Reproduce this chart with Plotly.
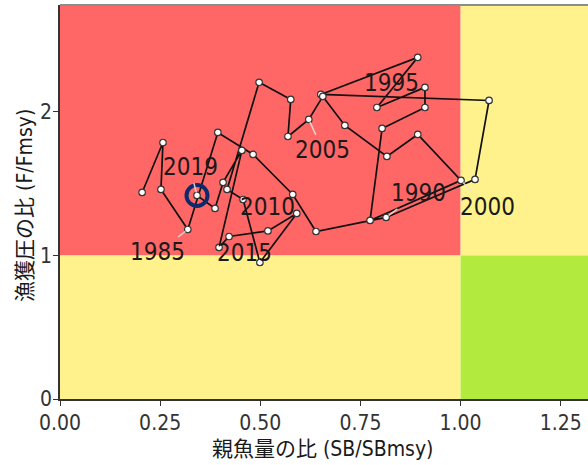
import plotly.graph_objects as go

# Stock trajectory: spawning biomass ratio vs fishing pressure ratio, by year
years = list(range(1982, 2020))
sb_ratio = [
    0.205, 0.257, 0.252, 0.319, 0.394, 0.482, 0.581, 0.639, 0.814, 1.036,
    1.071, 0.651, 0.893, 0.791, 0.911, 0.911, 0.804, 0.774, 1.001, 0.893,
    0.816, 0.711, 0.656, 0.621, 0.569, 0.576, 0.497, 0.417, 0.457, 0.499,
    0.591, 0.519, 0.422, 0.397, 0.454, 0.407, 0.387, 0.342,
]
f_ratio = [
    1.439, 1.787, 1.460, 1.181, 1.857, 1.704, 1.425, 1.167, 1.265, 1.530,
    2.080, 2.122, 2.380, 2.031, 2.171, 2.031, 1.885, 1.244, 1.523, 1.843,
    1.690, 1.906, 2.108, 1.948, 1.829, 2.087, 2.206, 1.460, 1.390, 0.951,
    1.293, 1.171, 1.132, 1.056, 1.732, 1.509, 1.328, 1.418,
]

label_years = [1985, 1990, 1995, 2000, 2005, 2010, 2015, 2019]
x_ticks = [0.0, 0.25, 0.5, 0.75, 1.0, 1.25]
y_ticks = [0, 1, 2]

x_max, y_max = 1.318, 2.745

RED = "#FF6666"
YELLOW = "#FFF28C"
GREEN = "#B3EA3E"

TEXT_FONT = "Liberation Sans Narrow, Arial Narrow, DejaVu Sans Condensed, Liberation Sans, Noto Sans CJK JP"

fig = go.Figure()

# Kobe quadrants
quadrants = [
    (0, 1, 1, y_max, RED),
    (1, x_max, 1, y_max, YELLOW),
    (0, 1, 0, 1, YELLOW),
    (1, x_max, 0, 1, GREEN),
]
for x0, x1, y0, y1, col in quadrants:
    fig.add_shape(type="rect", xref="x", yref="y", x0=x0, x1=x1, y0=y0, y1=y1,
                  fillcolor=col, line_width=0, layer="below")

fig.add_trace(go.Scatter(
    x=sb_ratio, y=f_ratio, mode="lines+markers",
    line=dict(color="#111111", width=1.7),
    marker=dict(size=6.5, color="white", line=dict(color="#333333", width=1.2)),
    hoverinfo="skip", showlegend=False,
))

# Ring around the latest year
fig.add_trace(go.Scatter(
    x=[sb_ratio[-1]], y=[f_ratio[-1]], mode="markers",
    marker=dict(symbol="circle-open", size=21, color="#0E2A6C", line=dict(width=4)),
    hoverinfo="skip", showlegend=False,
))

# Year label placement (pixel offsets from each point)
label_style = {
    1985: dict(leader=True, dx=-30, dy=23),
    1990: dict(leader=True, dx=32, dy=-24),
    1995: dict(leader=False, dx=15, dy=-24),
    2000: dict(leader=True, dx=26, dy=27),
    2005: dict(leader=True, dx=14, dy=31),
    2010: dict(leader=False, dx=24, dy=8),
    2015: dict(leader=False, dx=25, dy=6),
    2019: dict(leader=True, dx=-7, dy=-28),
}
for yr in label_years:
    i = years.index(yr)
    st = label_style[yr]
    common = dict(x=sb_ratio[i], y=f_ratio[i], xref="x", yref="y", text=str(yr),
                  font=dict(family=TEXT_FONT, size=24, color="#1a1a1a"))
    if st["leader"]:
        fig.add_annotation(**common, showarrow=True, ax=st["dx"], ay=st["dy"],
                           axref="pixel", ayref="pixel", arrowhead=0,
                           arrowwidth=1.5, arrowcolor="rgba(228,228,228,0.85)",
                           standoff=3, startstandoff=0)
    else:
        fig.add_annotation(**common, showarrow=False,
                           xshift=st["dx"], yshift=-st["dy"])

# Axis titles
fig.add_annotation(xref="paper", yref="paper", x=0.498, y=0, yanchor="middle",
                   yshift=-50, showarrow=False, text="親魚量の比 (SB/SBmsy)",
                   font=dict(family=TEXT_FONT, size=21, color="#1a1a1a"))
fig.add_annotation(xref="paper", yref="paper", x=0, y=0.49, xanchor="center",
                   xshift=-35, showarrow=False, textangle=-90,
                   text="漁獲圧の比 (F/Fmsy)",
                   font=dict(family=TEXT_FONT, size=21, color="#1a1a1a"))

# Upper frame line
fig.add_shape(type="line", xref="paper", yref="paper", x0=0, x1=1, y0=1, y1=1,
              line=dict(color="#8c8c8c", width=2))

axis_common = dict(showgrid=False, zeroline=False, showline=True,
                   linecolor="#333333", linewidth=1.5, ticks="outside",
                   ticklen=5, tickcolor="#333333", tickwidth=1.2,
                   tickfont=dict(family=TEXT_FONT, size=21, color="#333333"))

fig.update_xaxes(range=[0, x_max], tickvals=x_ticks,
                 ticktext=[f"{v:.2f}" for v in x_ticks],
                 ticklabelstandoff=-1, **axis_common)
fig.update_yaxes(range=[0, y_max], tickvals=y_ticks,
                 ticktext=[str(v) for v in y_ticks],
                 ticklabelstandoff=-3, **axis_common)

fig.update_layout(
    width=588, height=465,
    margin=dict(l=60, r=0, t=5, b=66),
    paper_bgcolor="white", plot_bgcolor="white",
)

fig.write_html("out.html")
